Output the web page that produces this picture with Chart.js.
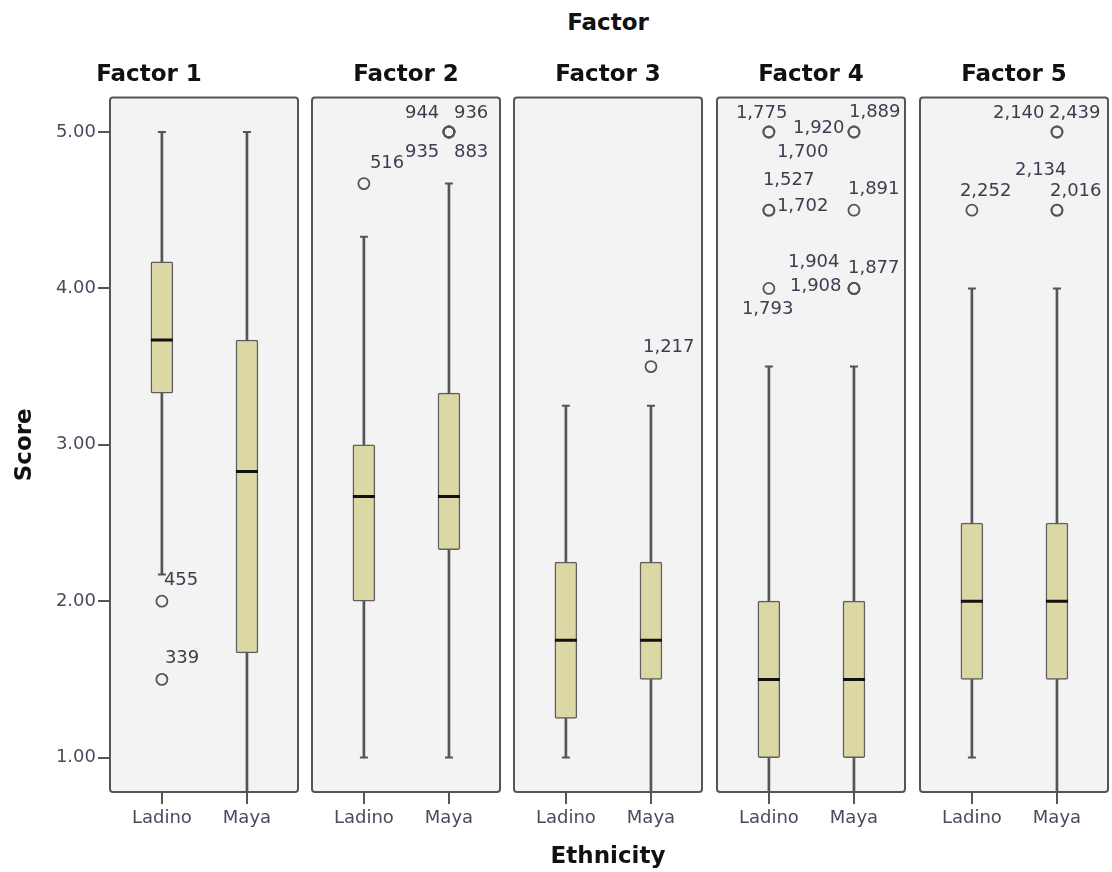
<!DOCTYPE html>
<html lang="en">
<head>
<meta charset="UTF-8">
<title>Score by Ethnicity and Factor</title>
<script src="https://cdn.jsdelivr.net/npm/chart.js@4.4.0/dist/chart.umd.min.js"></script>
<style>
  body { margin: 0; background: #fff; }
  #wrap { position: relative; width: 1112px; height: 872px; overflow: hidden; }
  #wrap canvas { position: absolute; top: 0; }
  #topTitle {
    position: absolute; left: 508px; width: 200px; top: 8px;
    text-align: center; font: bold 23px "DejaVu Sans", sans-serif; line-height: 28px; color: #111;
  }
</style>
</head>
<body>
<div id="wrap">
  <div id="topTitle">Factor</div>
</div>

<script>
// ---- data ----
const factors = ['Factor 1', 'Factor 2', 'Factor 3', 'Factor 4', 'Factor 5'];
const groups = ['Ladino', 'Maya'];
const yTicks = [1, 2, 3, 4, 5];

// [Ladino, Maya] per factor
const whiskerLow  = [[2.17, 0.78], [1.00, 1.00], [1.00, 0.78], [0.78, 0.78], [1.00, 0.78]];
const q1          = [[3.33, 1.67], [2.00, 2.33], [1.25, 1.50], [1.00, 1.00], [1.50, 1.50]];
const median      = [[3.67, 2.83], [2.67, 2.67], [1.75, 1.75], [1.50, 1.50], [2.00, 2.00]];
const q3          = [[4.17, 3.67], [3.00, 3.33], [2.25, 2.25], [2.00, 2.00], [2.50, 2.50]];
const whiskerHigh = [[5.00, 5.00], [4.33, 4.67], [3.25, 3.25], [3.50, 3.50], [4.00, 4.00]];

const outlierValues = [
  [[2.00, 1.50], []],
  [[4.67], [5.00, 5.00, 5.00, 5.00]],
  [[], [3.50]],
  [[5.00, 5.00, 4.50, 4.50, 4.00], [5.00, 5.00, 4.50, 4.00, 4.00, 4.00]],
  [[4.50], [5.00, 5.00, 4.50, 4.50]]
];
const outlierCases = [
  [['455', '339'], []],
  [['516'], ['944', '936', '935', '883']],
  [[], ['1,217']],
  [['1,775', '1,700', '1,527', '1,702', '1,793'], ['1,889', '1,920', '1,891', '1,877', '1,904', '1,908']],
  [['2,252'], ['2,140', '2,439', '2,134', '2,016']]
];

// ---- layout (pixels) ----
const yMin = 0.78, yMax = 5.22;
const xMin = -0.61, xMax = 1.6;
const panelLeft = [110, 312, 514, 717, 920];
const panelWidth = 188;
const chartHeight = 872;

// where each case label sits relative to its circle
const labelOffset = {
  '455': [2, -21], '339': [3, -21],
  '516': [6, -20], '944': [-44, -19], '936': [5, -19], '935': [-44, 20], '883': [5, 20],
  '1,217': [-8, -19],
  '1,775': [-33, -19], '1,700': [8, 20], '1,527': [-6, -30], '1,702': [8, -4], '1,793': [-27, 21],
  '1,889': [-5, -20], '1,920': [-61, -4], '1,891': [-6, -21], '1,877': [-6, -20], '1,904': [-66, -26], '1,908': [-64, -2],
  '2,252': [-12, -19], '2,140': [-64, -19], '2,439': [-8, -19], '2,134': [-42, -40], '2,016': [-7, -19]
};

const tickColor = '#4a4a5e';
const lineColor = '#555';

const panelFrame = {
  id: 'panelFrame',
  beforeDraw(chart) {
    const a = chart.chartArea, ctx = chart.ctx;
    ctx.save();
    ctx.fillStyle = '#f3f3f3';
    ctx.fillRect(a.left, a.top, a.right - a.left, a.bottom - a.top);
    ctx.restore();
  },
  beforeDatasetsDraw(chart) {
    const a = chart.chartArea, ctx = chart.ctx;
    ctx.save();
    ctx.strokeStyle = lineColor;
    ctx.lineWidth = 2;
    ctx.beginPath();
    ctx.roundRect(a.left, a.top, a.right - a.left, a.bottom - a.top, 3);
    ctx.stroke();
    ctx.restore();
  }
};

const caseLabels = {
  id: 'caseLabels',
  afterDatasetsDraw(chart) {
    const i = chart.options.plugins.caseLabels.panel;
    const ctx = chart.ctx, xs = chart.scales.x, ys = chart.scales.y;
    ctx.save();
    ctx.font = '18px "DejaVu Sans", sans-serif';
    ctx.fillStyle = '#3d3d50';
    ctx.textAlign = 'left';
    ctx.textBaseline = 'middle';
    for (let g = 0; g < 2; g++) {
      outlierValues[i][g].forEach((v, k) => {
        const id = outlierCases[i][g][k];
        const off = labelOffset[id] || [6, -18];
        ctx.fillText(id, xs.getPixelForValue(g) + off[0], ys.getPixelForValue(v) + off[1]);
      });
    }
    ctx.restore();
  }
};

function panelDatasets(i) {
  const gs = [0, 1];
  const caps = [];
  const outs = [];
  gs.forEach(g => {
    caps.push({ x: g, y: whiskerLow[i][g] }, { x: g, y: whiskerHigh[i][g] });
    outlierValues[i][g].forEach(v => outs.push({ x: g, y: v }));
  });
  return [
    {
      type: 'bar', order: 4, grouped: false, barThickness: 2,
      data: gs.map(g => ({ x: g, y: [whiskerLow[i][g], whiskerHigh[i][g]] })),
      backgroundColor: lineColor
    },
    {
      type: 'bar', order: 3, grouped: false, barThickness: 22,
      data: gs.map(g => ({ x: g, y: [q1[i][g], q3[i][g]] })),
      backgroundColor: '#dcd8a6', borderColor: '#5e5e5e', borderWidth: 1.5,
      borderRadius: 2, borderSkipped: false
    },
    {
      type: 'scatter', order: 2, data: gs.map(g => ({ x: g, y: median[i][g] })),
      pointStyle: 'line', pointRadius: 11, pointBorderWidth: 3, pointBorderColor: '#111'
    },
    {
      type: 'scatter', order: 2, data: caps,
      pointStyle: 'line', pointRadius: 4, pointBorderWidth: 2, pointBorderColor: lineColor
    },
    {
      type: 'scatter', order: 1, data: outs,
      pointStyle: 'circle', pointRadius: 5.5, pointBorderWidth: 1.8,
      pointBorderColor: lineColor, pointBackgroundColor: 'rgba(0,0,0,0)'
    }
  ];
}

const wrap = document.getElementById('wrap');

factors.forEach((name, i) => {
  const first = i === 0;
  const canvas = document.createElement('canvas');
  const left = first ? 0 : panelLeft[i] - 2;
  const width = first ? panelLeft[0] + panelWidth + 2 : panelWidth + 4;
  canvas.width = width;
  canvas.height = chartHeight;
  canvas.style.left = left + 'px';
  wrap.appendChild(canvas);

  new Chart(canvas, {
    type: 'bar',
    data: { datasets: panelDatasets(i) },
    plugins: [panelFrame, caseLabels],
    options: {
      responsive: false,
      animation: false,
      events: [],
      layout: { autoPadding: false, padding: { left: first ? 0 : 2, right: 2, top: 0, bottom: 0 } },
      plugins: {
        legend: { display: false },
        tooltip: { enabled: false },
        caseLabels: { panel: i },
        title: {
          display: true, text: name, color: '#111',
          font: { family: 'DejaVu Sans', size: 23, weight: 'bold' },
          padding: { top: 61, bottom: 9 }
        }
      },
      scales: {
        x: {
          type: 'linear', min: xMin, max: xMax, offset: false,
          afterBuildTicks: s => { s.ticks = groups.map((_, g) => ({ value: g })); },
          afterFit: s => { s.height = chartHeight - 792; s.paddingLeft = 0; s.paddingRight = 0; },
          ticks: {
            callback: v => groups[v], color: tickColor, padding: 4,
            maxRotation: 0, autoSkip: false,
            font: { family: 'DejaVu Sans', size: 18 }
          },
          grid: { display: true, offset: false, drawOnChartArea: false, drawTicks: true, tickLength: 12, color: lineColor, lineWidth: 2 },
          border: { display: false },
          title: {
            display: i === 2, text: 'Ethnicity', color: '#111',
            font: { family: 'DejaVu Sans', size: 23, weight: 'bold' },
            padding: { top: 0, bottom: 1 }
          }
        },
        y: {
          display: first, min: yMin, max: yMax,
          afterBuildTicks: s => { s.ticks = yTicks.map(v => ({ value: v })); },
          afterFit: s => { if (first) { s.width = panelLeft[0]; } },
          ticks: {
            callback: v => v.toFixed(2), color: tickColor, padding: 2,
            font: { family: 'DejaVu Sans', size: 18 }
          },
          grid: { display: true, drawOnChartArea: false, drawTicks: true, tickLength: 12, color: lineColor, lineWidth: 2 },
          border: { display: false },
          title: {
            display: true, text: 'Score', color: '#111',
            font: { family: 'DejaVu Sans', size: 23, weight: 'bold' },
            padding: { top: 11, bottom: 0 }
          }
        }
      }
    }
  });
});
</script>
</body>
</html>
